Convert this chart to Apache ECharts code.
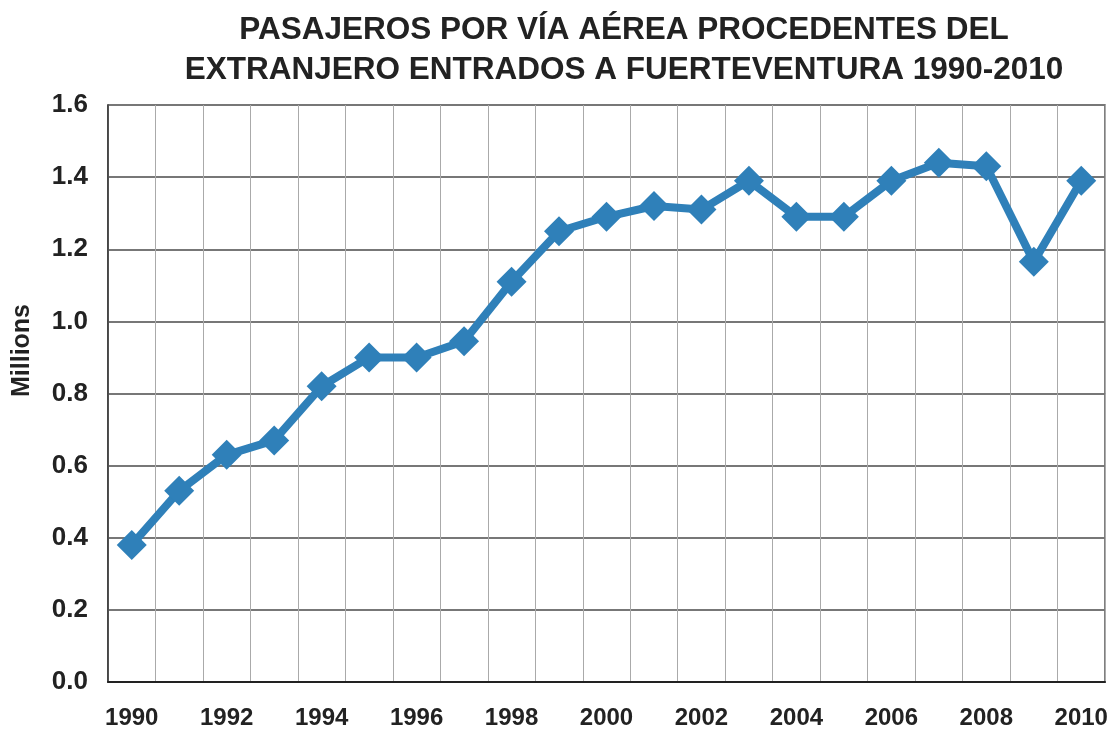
<!DOCTYPE html>
<html>
<head>
<meta charset="utf-8">
<script src="https://cdn.jsdelivr.net/npm/echarts@6/dist/echarts.min.js"></script>
<style>
  html, body { margin: 0; padding: 0; background: #fff; }
  #chart { width: 1115px; height: 734px; }
</style>
</head>
<body>
<div id="chart"></div>
<script>
var years = ['1990', '1991', '1992', '1993', '1994', '1995', '1996', '1997', '1998', '1999',
  '2000', '2001', '2002', '2003', '2004', '2005', '2006', '2007', '2008', '2009', '2010'];
// pasajeros, millones
var pasajeros = [0.38, 0.53, 0.63, 0.67, 0.82, 0.90, 0.90, 0.945, 1.11, 1.25,
  1.29, 1.32, 1.31, 1.39, 1.29, 1.29, 1.39, 1.44, 1.43, 1.165, 1.39];
var titulo = 'PASAJEROS POR VÍA AÉREA PROCEDENTES DEL\nEXTRANJERO ENTRADOS A FUERTEVENTURA 1990-2010';

var myChart = echarts.init(document.getElementById('chart'));
var fuente = '"Liberation Sans", Arial, sans-serif';

myChart.setOption({
  backgroundColor: '#fff',
  animation: false,
  title: {
    text: titulo,
    left: 619,
    textAlign: 'center',
    top: 5,
    textStyle: {
      fontFamily: fuente,
      fontSize: 31.5,
      fontWeight: 'bold',
      color: '#222',
      lineHeight: 40
    }
  },
  grid: {
    left: 108,
    right: 10,
    top: 105,
    bottom: 52,
    show: true,
    borderColor: '#555',
    borderWidth: 1.5
  },
  xAxis: {
    type: 'category',
    data: years,
    boundaryGap: true,
    axisLine: { lineStyle: { color: '#222', width: 2 } },
    axisTick: { show: false },
    axisLabel: {
      interval: 1,
      margin: 24,
      fontFamily: fuente,
      fontSize: 24,
      fontWeight: 'bold',
      color: '#222'
    },
    splitLine: {
      show: true,
      interval: 0,
      lineStyle: { color: '#aaa', width: 1 }
    }
  },
  yAxis: {
    type: 'value',
    min: 0,
    max: 1.6,
    interval: 0.2,
    name: 'Millions',
    nameLocation: 'middle',
    nameGap: 73,
    nameRotate: 90,
    nameTextStyle: {
      fontFamily: fuente,
      fontSize: 25,
      fontWeight: 'bold',
      color: '#222',
      padding: [0, 0, 0, 86]
    },
    axisLine: { show: true, lineStyle: { color: '#333', width: 1.5 } },
    axisTick: { show: false },
    axisLabel: {
      margin: 20,
      formatter: function (v) { return v.toFixed(1); },
      fontFamily: fuente,
      fontSize: 26,
      fontWeight: 'bold',
      color: '#222'
    },
    splitLine: { lineStyle: { color: '#777', width: 2 } }
  },
  series: [{
    type: 'line',
    data: pasajeros,
    symbol: 'diamond',
    symbolSize: 30,
    lineStyle: { color: '#2f80b9', width: 8 },
    itemStyle: { color: '#2f80b9' }
  }]
});
</script>
</body>
</html>
